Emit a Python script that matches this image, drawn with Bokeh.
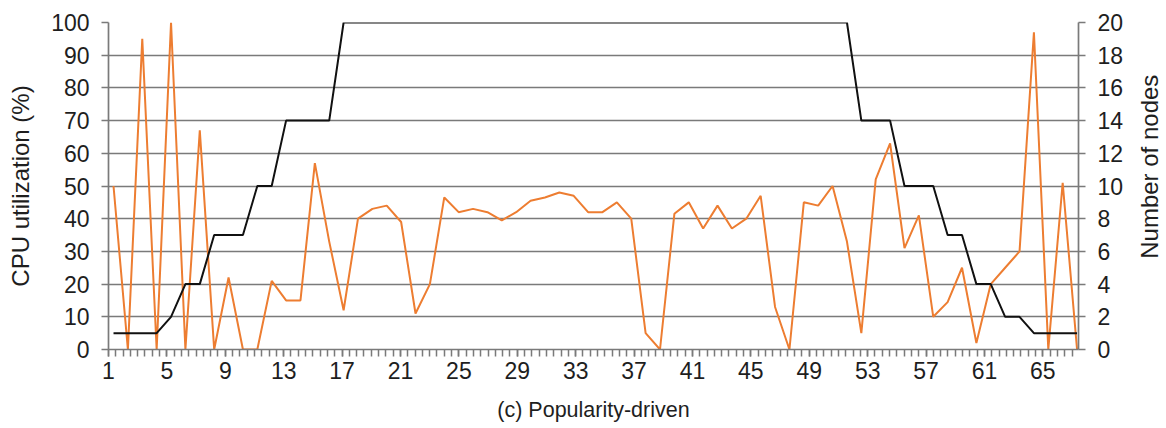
import math
from bokeh.plotting import figure
from bokeh.layouts import row
from bokeh.models import Range1d, LinearAxis, FixedTicker, ColumnDataSource, Label
from bokeh.embed import file_html
from bokeh.resources import INLINE

# ---- data ----
sample = list(range(1, 69))
cpu_util = [50, 0, 95, 0, 100, 0, 67, 0, 22, 0,
            0, 21, 15, 15, 57, 33, 12, 40, 43, 44,
            39, 11, 20, 46.5, 42, 43, 42, 39.5, 42, 45.5,
            46.5, 48, 47, 42, 42, 45, 40, 5, 0, 41.5,
            45, 37, 44, 37, 40, 47, 13, 0, 45, 44,
            50, 33, 5, 52, 63, 31, 41, 10, 14.5, 25,
            2, 20, 25, 30, 97, 0, 51, 0]
nodes = [1, 1, 1, 1, 2, 4, 4, 7, 7, 7,
         10, 10, 14, 14, 14, 14, 20, 20, 20, 20,
         20, 20, 20, 20, 20, 20, 20, 20, 20, 20,
         20, 20, 20, 20, 20, 20, 20, 20, 20, 20,
         20, 20, 20, 20, 20, 20, 20, 20, 20, 20,
         20, 20, 14, 14, 14, 10, 10, 10, 7, 7,
         4, 4, 2, 2, 1, 1, 1, 1]
x_tick_labels = [1, 5, 9, 13, 17, 21, 25, 29, 33, 37, 41, 45, 49, 53, 57, 61, 65]
cpu_ticks = [0, 10, 20, 30, 40, 50, 60, 70, 80, 90, 100]
node_ticks = [0, 2, 4, 6, 8, 10, 12, 14, 16, 18, 20]

src = ColumnDataSource(dict(x=sample, cpu=cpu_util, nodes=nodes))

FONT = "Liberation Sans"
TXT = "#1e1e1e"
GRID = "#7a7a7a"
H = 424

p = figure(width=1128, height=H,
           x_range=Range1d(0.652, 68.1), y_range=Range1d(0, 100),
           x_axis_location=None, y_axis_location="left",
           output_backend="svg", toolbar_location=None,
           min_border_left=108, min_border_right=50,
           min_border_top=22, min_border_bottom=75)
p.outline_line_color = None
p.background_fill_color = "white"
p.border_fill_color = "white"

p.extra_y_ranges = {"nodes": Range1d(0, 20)}
p.extra_x_ranges = {"lab": Range1d(1, 67.44)}

# grid
p.xgrid.visible = False
p.ygrid.ticker = FixedTicker(ticks=cpu_ticks)
p.ygrid.grid_line_color = GRID
p.ygrid.grid_line_width = 1.7

def style_axis(ax, standoff, title_standoff, size_lab, size_title):
    ax.axis_line_color = GRID
    ax.axis_line_width = 1.7
    ax.major_tick_line_color = GRID
    ax.major_tick_line_width = 1.5
    ax.minor_tick_line_color = GRID
    ax.minor_tick_line_width = 1.5
    ax.major_tick_in = 0
    ax.major_tick_out = 7
    ax.minor_tick_in = 0
    ax.major_label_text_font = FONT
    ax.major_label_text_font_size = size_lab
    ax.major_label_text_color = TXT
    ax.major_label_standoff = standoff
    ax.axis_label_text_font = FONT
    ax.axis_label_text_font_size = size_title
    ax.axis_label_text_font_style = "normal"
    ax.axis_label_text_color = TXT
    ax.axis_label_standoff = title_standoff

# left axis
yl = p.yaxis[0]
yl.ticker = FixedTicker(ticks=cpu_ticks)
yl.axis_label = "CPU utilization (%)"
style_axis(yl, 12, 14, "23px", "24px")
yl.minor_tick_out = 0

# right axis (its title is drawn in the narrow panel beside it)
yr = LinearAxis(y_range_name="nodes", ticker=FixedTicker(ticks=node_ticks))
style_axis(yr, 12, 16, "23px", "24px")
yr.minor_tick_out = 0
p.add_layout(yr, "right")

# bottom axis
minor = [1 + 0.5 * i for i in range(133)]
xb = LinearAxis(x_range_name="lab",
                ticker=FixedTicker(ticks=x_tick_labels, minor_ticks=minor),
                axis_label="(c) Popularity-driven")
style_axis(xb, 5, 16, "23px", "21.5px")
xb.minor_tick_out = 7
p.add_layout(xb, "below")

# series
p.line("x", "cpu", source=src, line_color="#ED7D31", line_width=2)
p.line("x", "nodes", source=src, y_range_name="nodes",
       line_color="#111111", line_width=2)

# narrow panel holding the right-hand title, reading bottom-to-top
p2 = figure(width=34, height=H, x_range=Range1d(0, 34), y_range=Range1d(0, H),
            x_axis_location=None, y_axis_location=None,
            output_backend="svg", toolbar_location=None, min_border=0)
p2.outline_line_color = None
p2.grid.visible = False
p2.add_layout(Label(x=21, y=H - 187, text="Number of nodes", angle=math.pi / 2,
                    text_align="center", text_baseline="middle",
                    text_font=FONT, text_font_size="24px", text_color=TXT))

open("out.html", "w").write(file_html(row(p, p2), INLINE))
